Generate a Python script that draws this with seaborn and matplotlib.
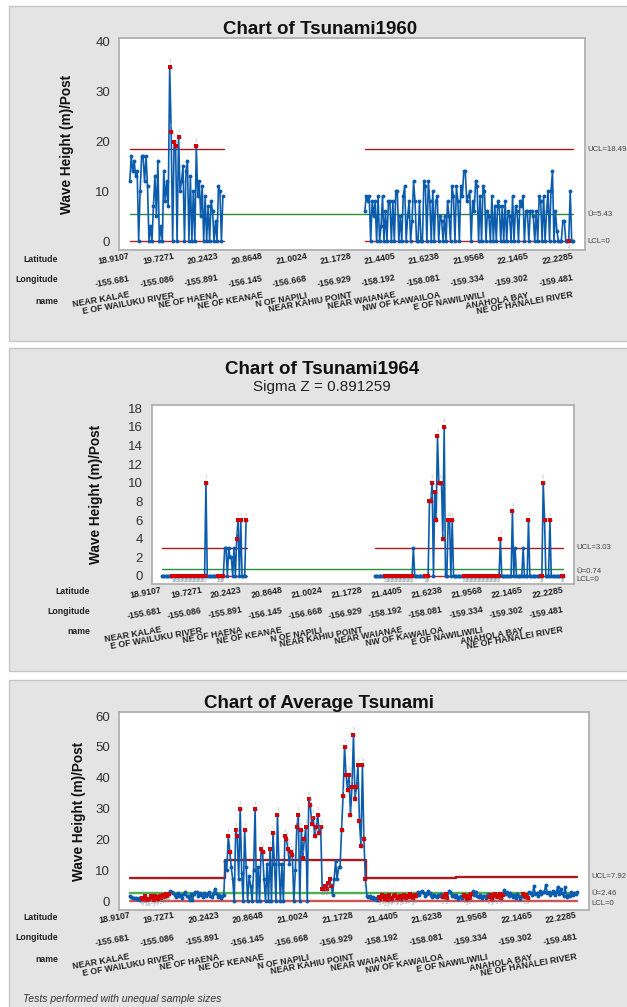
"""Recreate the Minitab-style U chart panels for the Hawaii tsunami data."""
import numpy as np
import pandas as pd
import matplotlib

matplotlib.use("Agg")
import matplotlib.pyplot as plt
import seaborn as sns
from matplotlib import transforms
from matplotlib.patches import Rectangle

# Axis labels shared by the three charts.
tick_idx = [0, 30, 60, 90, 120, 150, 180, 210, 240, 270, 300]
lat_labels = ["18.9107", "19.7271", "20.2423", "20.8648", "21.0024", "21.1728",
              "21.4405", "21.6238", "21.9568", "22.1465", "22.2285"]
lon_labels = ["-155.681", "-155.086", "-155.891", "-156.145", "-156.668",
              "-156.929", "-158.192", "-158.081", "-159.334", "-159.302",
              "-159.481"]
name_labels = ["NEAR KALAE", "E OF WAILUKU RIVER", "NE OF HAENA",
               "NE OF KEANAE", "N OF NAPILI", "NEAR KAHIU POINT",
               "NEAR WAIANAE", "NW OF KAWAILOA", "E OF NAWILIWILI",
               "ANAHOLA BAY", "NE OF HANALEI RIVER"]

# Tsunami 1960 (two observed stretches, gap in between).
t60_start = [0, 159]
t60_a = [12, 17, 14, 16, 13, 14, 0, 10, 17, 17,
         12, 17, 11, 0, 3, 0, 7, 13, 5, 16,
         0, 3, 0, 14, 8, 12, 7, 35, 22, 0,
         20, 19, 0, 21, 10, 12, 15, 0, 14, 16,
         0, 13, 0, 10, 0, 19, 9, 12, 5, 11,
         0, 9, 0, 7, 0, 8, 6, 0, 4, 0,
         11, 10, 0, 9]
t60_c = [6, 9, 8, 9, 0, 8, 5, 8, 0, 9,
         0, 3, 9, 0, 6, 0, 8, 8, 0, 8,
         0, 10, 10, 0, 5, 0, 9, 11, 0, 5,
         8, 0, 4, 12, 8, 0, 0, 8, 0, 0,
         12, 11, 0, 12, 8, 0, 10, 0, 8, 9,
         0, 5, 4, 0, 5, 0, 8, 5, 0, 11,
         9, 0, 11, 8, 0, 11, 9, 14, 14, 8,
         9, 10, 0, 8, 6, 12, 11, 0, 9, 0,
         11, 10, 0, 6, 5, 0, 9, 0, 7, 0,
         8, 7, 0, 7, 0, 8, 0, 6, 5, 0,
         9, 0, 7, 6, 0, 8, 7, 9, 0, 6,
         6, 0, 6, 6, 5, 0, 6, 0, 9, 8,
         0, 9, 0, 6, 10, 0, 10, 14, 0, 6,
         2, 0, 0, 0, 4, 4, 0, 0, 0, 10,
         0, 0]
t60_ucl = [18.49, 18.49]
t60_center = 5.43

# Tsunami 1964 (Laney U' chart).
t64_start = [0, 159]
t64_a = [0, 0, 0, 0, 0, 0, 0, 0,
         0, 0, 0, 0, 0, 0, 0, 0, 0, 0, 0, 0, 0, 0, 0, 0, 0, 0, 0, 0, 0, 0,
         0, 0, 0,
         10,
         0, 0, 0, 0, 0, 0, 0, 0, 0, 0, 0, 0, 0,
         3, 3, 0, 3, 2, 2, 0, 3, 0, 4, 6, 0, 6, 0, 0, 0, 6]
t64_c = [0, 0, 0, 0, 0, 0, 0, 0, 0, 0, 0, 0, 0, 0, 0, 0, 0, 0, 0, 0,
         0, 0, 0, 0, 0, 0, 0, 0, 0,
         3,
         0, 0, 0, 0, 0, 0, 0, 0, 0, 0, 0,
         8, 8, 10, 0, 9, 6, 15, 10, 10, 10, 4, 16, 0, 0, 6, 6, 0, 6,
         0, 0, 0, 0, 0, 0, 0, 0, 0, 0, 0, 0, 0, 0, 0, 0, 0, 0, 0, 0,
         0, 0, 0, 0, 0, 0, 0, 0, 0, 0, 0, 0, 0, 0, 0,
         4,
         0, 0, 0, 0, 0, 0, 0, 0,
         7, 0, 3, 0, 0, 0, 0, 0, 3, 0, 0, 0, 6,
         0, 0, 0, 0, 0, 0, 0, 0, 0, 0,
         10, 6, 0, 0, 0, 6,
         0, 0, 0, 0, 0, 0, 0, 0, 0, 0]
t64_ucl = [3.03, 3.03]
t64_center = 0.74

# Average tsunami (four sample-size groups, each with its own UCL).
avg_start = [0, 64, 159, 219]
avg_a = [1.7, 1.2, 1.0, 1.1, 0.9, 0.6, 0.9, 0.5, 1.1, 0.7,
         1.5, 0.4, 0.8, 0.6, 1.8, 1.0, 0.5, 1.6, 1.2, 0.8,
         1.7, 1.1, 2.0, 1.4, 2.2, 1.8, 2.4, 3.1, 2.8, 2.6,
         2.0, 1.4, 2.7, 1.5, 1.9, 1.0, 2.3, 2.9, 1.8, 1.6,
         0.4, 2.2, 0.3, 2.4, 2.9, 2.8, 1.7, 2.6, 2.0, 1.3,
         2.7, 1.6, 2.2, 3.0, 1.8, 1.2, 2.3, 4.0, 2.5, 1.4,
         2.1, 0.9, 1.6, 2.1]
avg_b = [13, 10, 21, 16, 11, 7, 0, 23, 21, 7,
         30, 9, 0, 23, 11, 0, 8, 5, 0, 10,
         30, 0, 11, 0, 17, 16, 7, 0, 12, 0,
         17, 0, 22, 12, 0, 28, 12, 0, 12, 0,
         21, 20, 17, 12, 16, 15, 0, 10, 24, 28,
         0, 23, 14, 20, 24, 0, 33, 31, 25, 27,
         21, 24, 28, 22, 24, 4, 4, 5, 4, 6,
         7, 5, 2, 7, 13, 7, 11, 11, 23, 34,
         50, 41, 36, 41, 28, 37, 54, 33, 37, 44,
         26, 18, 44, 20, 7]
avg_c = [1.8, 1.2, 1.5, 0.9, 1.3, 0.6, 1.0, 0.5, 1.4, 0.8,
         1.9, 1.2, 0.6, 1.6, 0.4, 1.9, 1.1, 0.7, 1.5, 2.0,
         0.9, 1.3, 1.7, 0.8, 1.2, 1.9, 1.0, 1.6, 1.4, 2.2,
         1.8, 0.9, 2.1, 1.5, 3.0, 1.9, 2.8, 3.4, 2.6, 1.8,
         2.2, 3.3, 2.7, 1.9, 1.4, 2.1, 1.7, 1.2, 2.0, 1.6,
         2.2, 1.3, 1.8, 2.3, 1.0, 3.2, 2.9, 1.5, 2.1, 1.2]
avg_d = [1.9, 0.8, 1.3, 1.6, 1.1, 2.0, 1.4, 0.8, 1.6, 1.1,
         2.2, 3.1, 2.0, 2.8, 1.7, 1.2, 2.1, 0.9, 1.5, 1.8,
         1.0, 2.2, 1.3, 1.9, 0.7, 1.6, 2.3, 1.2, 1.8, 2.4,
         1.1, 2.0, 3.6, 2.2, 2.9, 1.8, 2.6, 2.1, 1.4, 1.9,
         1.0, 2.3, 1.6, 0.8, 1.7, 2.2, 1.3, 2.0, 1.1, 3.0,
         2.5, 1.9, 4.8, 2.2, 2.6, 1.8, 3.1, 2.4, 2.9, 2.8,
         5.3, 2.6, 3.0, 2.1, 2.7, 3.4, 1.9, 2.8, 4.7, 2.3,
         3.9, 2.5, 1.6, 4.4, 1.2, 2.0, 1.5, 2.9, 1.9, 2.6,
         2.2, 2.9]
avg_ucl = [7.4, 13.4, 7.4, 7.92]
avg_center = 2.46

W, H = 627, 1007
BLUE = "#0b5cad"
RED = "#d40000"


def fx(x):
    return x / W


def fy(y):
    return 1 - y / H


def build_frame(starts, segments, ucls, center, connected):
    """Stack the segments into one frame and flag Minitab tests 1 and 2."""
    frames = []
    for k, (start, vals) in enumerate(zip(starts, segments)):
        frames.append(pd.DataFrame({
            "idx": np.arange(start, start + len(vals)),
            "val": np.asarray(vals, dtype=float),
            "seg": 0 if connected else k,
            "ucl": ucls[k],
        }))
    df = pd.concat(frames, ignore_index=True)

    # Test 1: above the upper limit. Test 2: 9 in a row on one side.
    df["test1"] = df["val"] > df["ucl"]
    run_side, run_len, prev_seg, test2 = 0, 0, None, []
    for v, s in zip(df["val"], df["seg"]):
        side = int(np.sign(v - center))
        if s != prev_seg or side != run_side or side == 0:
            run_side, run_len = side, 1
        else:
            run_len += 1
        prev_seg = s
        test2.append(run_len >= 9 and side != 0)
    df["test2"] = test2
    df["flag"] = df["test1"] | df["test2"]
    return df


def draw_panel(ax, df, center, ucl_xy, lcl_xy, ylim, yticks, thick=False):
    """Draw control limits, the series and the flagged points."""
    lw_lim = 1.7 if thick else 1.0
    ax.plot(ucl_xy[0], ucl_xy[1], color="#a61c1c", lw=lw_lim, zorder=1)
    ax.plot(lcl_xy[0], lcl_xy[1], color="#cc5555" if thick else "#b82020",
            lw=lw_lim, zorder=1)
    ax.plot([0, 300], [center, center],
            color="#4caf50" if thick else "#2e8b3a", lw=lw_lim, zorder=1)

    sns.lineplot(data=df, x="idx", y="val", units="seg", estimator=None,
                 color=BLUE, lw=1.2, marker="o", markersize=2.8,
                 markeredgewidth=0, legend=False, ax=ax, zorder=2)
    flagged = df[df["flag"]]
    sns.scatterplot(data=flagged, x="idx", y="val", marker="s", s=8,
                    color=RED, linewidth=0, legend=False, ax=ax, zorder=3)

    # Small test numbers next to the flagged points.
    for _, row in flagged.iterrows():
        if row["test1"]:
            ax.annotate("1", (row["idx"], row["val"]), xytext=(0, 2.5),
                        textcoords="offset points", ha="center",
                        va="bottom", fontsize=3.0, color="#aaaaaa")
        else:
            ax.annotate("2", (row["idx"], row["val"]), xytext=(0, -2.5),
                        textcoords="offset points", ha="center",
                        va="top", fontsize=3.0, color="#888888")

    ax.set_xlim(-7.3, 308)
    ax.set_ylim(*ylim)
    ax.set_yticks(yticks)
    ax.set_xticks(tick_idx)
    ax.set_xticklabels([])
    ax.set_xlabel("")
    ax.set_ylabel("")
    ax.tick_params(axis="both", length=3, width=0.8, color="#999999",
                   labelsize=9.5, labelcolor="#333333")
    for spine in ax.spines.values():
        spine.set_color("#b0b0b0")
        spine.set_linewidth(1.3)


def draw_xrows(fig, ax, row_x, dys):
    """Latitude / Longitude / name rows under the axis."""
    base = transforms.blended_transform_factory(ax.transData, ax.transAxes)
    rows = [lat_labels, lon_labels, name_labels]
    for labels, dy in zip(rows, dys[:3]):
        trans = transforms.offset_copy(base, fig=fig, x=0, y=-dy * 0.72,
                                       units="points")
        for t, lab in zip(tick_idx, labels):
            ax.text(t, 0, lab, transform=trans, ha="right", va="center",
                    rotation=10, rotation_mode="anchor", fontsize=6.3,
                    weight="bold", color="#222222", clip_on=False)
    bottom = ax.get_position().y0 * H
    for title, dy in zip(["Latitude", "Longitude", "name"], dys[3:]):
        fig.text(fx(row_x), fy(H - bottom + dy), title, ha="right",
                 va="center", fontsize=6.3, weight="bold", color="#222222")


def limit_labels(ax, items):
    for text, val, dy in items:
        ax.annotate(text, (1, val), xycoords=("axes fraction", "data"),
                    xytext=(1.5, dy), textcoords="offset points",
                    ha="left", va="center", fontsize=5.6, color="#444444",
                    annotation_clip=False)


sns.set_theme(style="white")
plt.rcParams["font.family"] = ["Liberation Sans", "DejaVu Sans"]

fig = plt.figure(figsize=(W / 100, H / 100), dpi=100)

# Grey panel frames.
for top, bottom in [(6, 341), (348, 671), (680, 1010)]:
    fig.add_artist(Rectangle((fx(9), fy(bottom)), fx(640) - fx(9),
                             (bottom - top) / H, transform=fig.transFigure,
                             facecolor="#e4e4e4", edgecolor="#c6c6c6",
                             lw=1.0, zorder=-5))


def add_axes(left, right, top, bottom):
    return fig.add_axes([fx(left), fy(bottom), fx(right) - fx(left),
                         (bottom - top) / H])


# Panel 1: Tsunami 1960.
ax1 = add_axes(119, 585, 38, 250)
df60 = build_frame(t60_start, [t60_a, t60_c], t60_ucl, t60_center, False)
seg_x = [0, 63.5, np.nan, 159, 300]
draw_panel(ax1, df60, t60_center,
           (seg_x, [t60_ucl[0], t60_ucl[0], np.nan, t60_ucl[1], t60_ucl[1]]),
           (seg_x, [0, 0, np.nan, 0, 0]),
           (-1.8, 40.8), [0, 10, 20, 30, 40])
limit_labels(ax1, [("UCL=18.49", 18.49, 0), ("Ū=5.43", 5.43, 0),
                   ("LCL=0", 0, 0)])
draw_xrows(fig, ax1, 58, [6, 28, 45, 9, 29, 51])
fig.text(fx(320), fy(29), "Chart of Tsunami1960", ha="center", va="center",
         fontsize=13.5, weight="bold", color="#111111")
fig.text(fx(67), fy(144), "Wave Height (m)/Post", rotation=90, ha="center",
         va="center", fontsize=9.8, weight="bold", color="#111111")

# Panel 2: Tsunami 1964.
ax2 = add_axes(152, 574, 405, 584)
df64 = build_frame(t64_start, [t64_a, t64_c], t64_ucl, t64_center, False)
draw_panel(ax2, df64, t64_center,
           (seg_x, [t64_ucl[0], t64_ucl[0], np.nan, t64_ucl[1], t64_ucl[1]]),
           (seg_x, [0, 0, np.nan, 0, 0]),
           (-0.86, 18.33), [0, 2, 4, 6, 8, 10, 12, 14, 16, 18])
limit_labels(ax2, [("UCL=3.03", 3.03, 0), ("Ū=0.74", 0.74, -1.5),
                   ("LCL=0", 0, -2.5)])
draw_xrows(fig, ax2, 90, [6, 26, 46, 8, 28, 48])
fig.text(fx(322), fy(370), "Chart of Tsunami1964", ha="center", va="center",
         fontsize=13.5, weight="bold", color="#111111")
fig.text(fx(322), fy(387), "Sigma Z = 0.891259", ha="center", va="center",
         fontsize=11, color="#222222")
fig.text(fx(96), fy(494), "Wave Height (m)/Post", rotation=90, ha="center",
         va="center", fontsize=9.8, weight="bold", color="#111111")

# Panel 3: Average tsunami with stepped UCL.
ax3 = add_axes(119, 589, 712, 910)
dfavg = build_frame(avg_start, [avg_a, avg_b, avg_c, avg_d], avg_ucl,
                    avg_center, True)
edges = [s - 0.5 for s in avg_start[1:]]
step_x = [0] + [e for e in edges for _ in (0, 1)] + [300]
step_y = [u for u in avg_ucl for _ in (0, 1)]
draw_panel(ax3, dfavg, avg_center, (step_x, step_y), ([0, 300], [0, 0]),
           (-2.9, 61.3), [0, 10, 20, 30, 40, 50, 60], thick=True)
limit_labels(ax3, [("UCL=7.92", 7.92, 0), ("Ū=2.46", 2.46, 0),
                   ("LCL=0", 0, -1.5)])
draw_xrows(fig, ax3, 58, [5, 27, 47, 8, 28, 49])
fig.text(fx(319), fy(703), "Chart of Average Tsunami", ha="center",
         va="center", fontsize=13.5, weight="bold", color="#111111")
fig.text(fx(79), fy(811), "Wave Height (m)/Post", rotation=90, ha="center",
         va="center", fontsize=9.8, weight="bold", color="#111111")
fig.text(fx(23), fy(999), "Tests performed with unequal sample sizes",
         ha="left", va="center", fontsize=7.5, style="italic",
         color="#333333")

fig.savefig("out.png", dpi=100)
